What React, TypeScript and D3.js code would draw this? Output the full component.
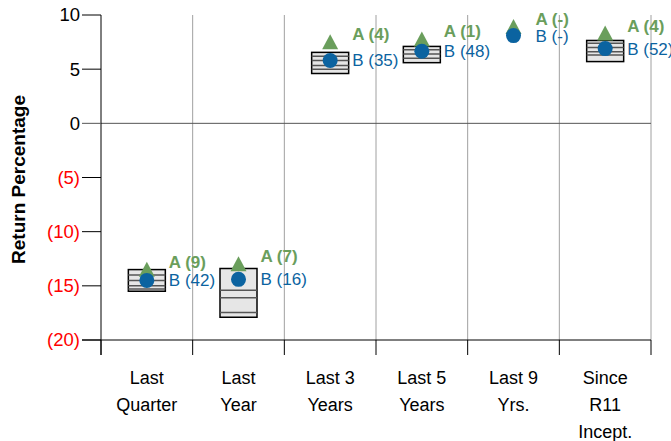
import React, { useEffect } from "react";
import * as d3 from "d3";

// categories (label lines)
const categories = ["Last Quarter", "Last Year", "Last 3 Years", "Last 5 Years", "Last 9 Yrs.", "Since R11 Incept."];
const categoryLines = [
  ["Last", "Quarter"],
  ["Last", "Year"],
  ["Last 3", "Years"],
  ["Last 5", "Years"],
  ["Last 9", "Yrs."],
  ["Since", "R11", "Incept."],
];

// floating range boxes (null = no box)
const boxHigh = [-13.5, -13.4, 6.55, 7.1, null, 7.65];
const boxLow = [-15.5, -17.9, 4.6, 5.6, null, 5.7];
// horizontal lines inside each box
const boxLines = [
  [-14.0, -14.5, -15.0, -15.3],
  [-15.4, -16.1, -17.45],
  [6.2, 5.8, 5.35, 5.0],
  [6.8, 6.4, 6.0],
  [],
  [7.4, 7.0, 6.6, 6.3],
];

// series A (triangle) and B (circle)
const seriesA = [-13.7, -13.2, 7.3, 7.55, 8.7, 8.1];
const seriesB = [-14.5, -14.4, 5.8, 6.65, 8.1, 6.9];
const rankA = ["9", "7", "4", "1", "-", "4"];
const rankB = ["42", "16", "35", "48", "-", "52"];

const yTicks = [10, 5, 0, -5, -10, -15, -20];

const W = 671;
const H = 441;
const FONT = "'Liberation Sans', Arial, sans-serif";
const GREEN = "#6a9e5c";
const BLUE = "#0b63a0";

export default function App() {
  useEffect(() => {
    document.body.style.margin = "0";
  }, []);

  const x = d3.scaleBand<string>().domain(categories).range([101, 651]).padding(0);
  const y = d3.scaleLinear().domain([-20, 10]).range([340, 15]);
  const bw = x.bandwidth();
  const boxW = 37;

  const tri = (cx: number, cy: number) =>
    `M${cx},${cy - 10}L${cx + 8},${cy + 5}L${cx - 8},${cy + 5}Z`;

  return (
    <svg width={W} height={H} style={{ display: "block", fontFamily: FONT }}>
      <rect width={W} height={H} fill="#fff" />
      {/* vertical gridlines */}
      {categories.map((c) => (
        <line key={"g" + c} x1={x(c)! + bw} x2={x(c)! + bw} y1={y(10)} y2={y(-20)} stroke="#a0a0a0" strokeWidth={1} />
      ))}
      {/* zero line */}
      <line x1={101} x2={651} y1={y(0)} y2={y(0)} stroke="#555" strokeWidth={1} />
      {/* bottom axis */}
      <line x1={82} x2={651} y1={y(-20)} y2={y(-20)} stroke="#000" strokeWidth={1} />
      {[...categories.map((c) => x(c)!), 651].map((v, i) => (
        <line key={"bt" + i} x1={v} x2={v} y1={y(-20)} y2={355} stroke="#000" strokeWidth={1} />
      ))}
      {/* left axis */}
      <line x1={101} x2={101} y1={y(10)} y2={355} stroke="#000" strokeWidth={1} />
      {yTicks.map((t) => (
        <g key={"yt" + t}>
          <line x1={82} x2={101} y1={y(t)} y2={y(t)} stroke={t === 0 ? "#555" : "#000"} strokeWidth={1} />
          <text x={80} y={y(t)} dy="0.35em" textAnchor="end" fontSize={18.5} fill={t < 0 ? "#ff0000" : "#000"}>
            {t < 0 ? `(${-t})` : `${t}`}
          </text>
        </g>
      ))}
      <text
        transform={`translate(25,${(y(10) + y(-20)) / 2 + 2}) rotate(-90)`}
        textAnchor="middle"
        fontSize={19}
        fontWeight="bold"
        fill="#000"
      >
        Return Percentage
      </text>
      {/* category labels */}
      {categories.map((c, i) => (
        <text key={"cl" + c} textAnchor="middle" fontSize={18} fill="#000">
          {categoryLines[i].map((ln, j) => (
            <tspan key={j} x={x(c)! + bw / 2} y={384 + j * 27}>
              {ln}
            </tspan>
          ))}
        </text>
      ))}
      {/* boxes */}
      {categories.map((c, i) => {
        const hi = boxHigh[i];
        const lo = boxLow[i];
        if (hi == null || lo == null) return null;
        const cx = x(c)! + bw / 2;
        return (
          <g key={"b" + c}>
            <rect x={cx - boxW / 2} y={y(hi)} width={boxW} height={y(lo) - y(hi)} fill="#e6e6e6" stroke="#000" strokeWidth={1.5} />
            {boxLines[i].map((v, j) => (
              <line key={j} x1={cx - boxW / 2} x2={cx + boxW / 2} y1={y(v)} y2={y(v)} stroke="#555" strokeWidth={1.5} />
            ))}
          </g>
        );
      })}
      {/* markers and labels */}
      {categories.map((c, i) => {
        const cx = x(c)! + bw / 2;
        return (
          <g key={"m" + c}>
            <path d={tri(cx, y(seriesA[i]))} fill={GREEN} />
            <circle cx={cx} cy={y(seriesB[i])} r={7.5} fill={BLUE} />
            <text x={cx + 22} y={y(seriesA[i]) - 10} dy="0.35em" fontSize={17} fontWeight="bold" fill={GREEN}>
              {`A (${rankA[i]})`}
            </text>
            <text x={cx + 22} y={y(seriesB[i])} dy="0.35em" fontSize={17} fill={BLUE}>
              {`B (${rankB[i]})`}
            </text>
          </g>
        );
      })}
    </svg>
  );
}
